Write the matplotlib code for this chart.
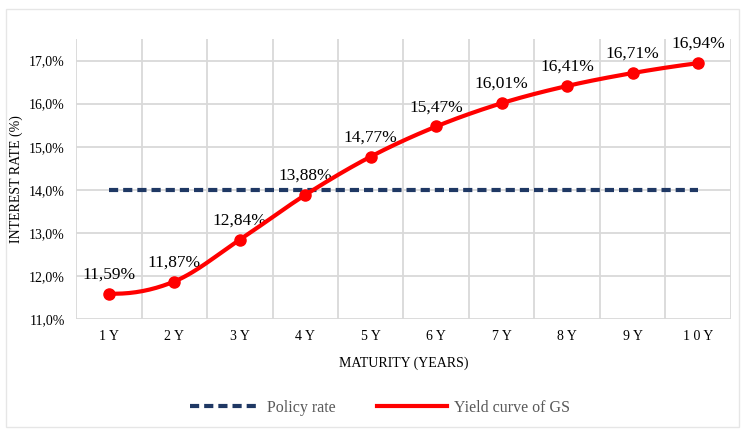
import numpy as np
import matplotlib
matplotlib.use("Agg")
import matplotlib.pyplot as plt
from matplotlib.patches import Rectangle

# data
maturities = ["1 Y", "2 Y", "3 Y", "4 Y", "5 Y", "6 Y", "7 Y", "8 Y", "9 Y", "1 0 Y"]
yield_gs = [11.59, 11.87, 12.84, 13.88, 14.77, 15.47, 16.01, 16.41, 16.71, 16.94]
policy_rate = [14.0] * 10

plt.rcParams['font.family'] = ['Liberation Serif', 'DejaVu Serif']

red = "#FF0000"
navy = "#1F3864"
grid = "#D9D9D9"


def smooth(x, y, n=30):
    # cubic hermite through the points, like Excel's smoothed line
    x = np.asarray(x, float)
    y = np.asarray(y, float)
    m = np.zeros_like(y)
    m[1:-1] = (y[2:] - y[:-2]) / 2
    m[0] = 2 * (y[1] - y[0]) - m[1]
    m[-1] = 2 * (y[-1] - y[-2]) - m[-2]
    t = np.linspace(0, 1, n)
    h00 = 2 * t**3 - 3 * t**2 + 1
    h10 = t**3 - 2 * t**2 + t
    h01 = -2 * t**3 + 3 * t**2
    h11 = t**3 - t**2
    xs, ys = [], []
    for i in range(len(x) - 1):
        xs.append(x[i] + t * (x[i + 1] - x[i]))
        ys.append(h00 * y[i] + h10 * m[i] + h01 * y[i + 1] + h11 * m[i + 1])
    return np.concatenate(xs), np.concatenate(ys)


fig = plt.figure(figsize=(7.45, 4.33), dpi=100)
fig.patches.append(Rectangle((0.008, 0.014), 0.984, 0.965, transform=fig.transFigure,
                             fill=False, edgecolor="#E6E6E6", lw=1))
ax = fig.add_axes([76 / 745, 1 - 319 / 433, 655 / 745, 280 / 433])

x = np.arange(len(maturities))
ax.plot(x, policy_rate, color=navy, lw=3, ls=(0, (2.2, 1.2)), label="Policy rate", zorder=3)
sx, sy = smooth(x, yield_gs)
ax.plot(sx, sy, color=red, lw=3, zorder=4, label="Yield curve of GS")
ax.plot(x, yield_gs, 'o', color=red, ms=8, zorder=5)

for xi, yi in zip(x, yield_gs):
    ax.annotate(f"{yi:.2f}%".replace(".", ","), (xi, yi), xytext=(0, 8),
                textcoords="offset points", ha="center", va="bottom", fontsize=12.5)

ax.set_xlim(-0.5, len(maturities) - 0.5)
ax.set_ylim(11, 17.5)
ax.set_yticks(np.arange(11, 17.5, 1))
ax.set_yticklabels([f"{v:.1f}%".replace(".", ",") for v in np.arange(11, 17.5, 1)], fontsize=10)
ax.set_xticks(x)
ax.set_xticklabels(maturities, fontsize=10)
ax.grid(False)
for v in np.arange(-0.5, len(maturities)):
    ax.axvline(v, color=grid, lw=1.3, zorder=0)
for v in np.arange(11, 17.5, 1):
    ax.axhline(v, color=grid, lw=1.3, zorder=0)
ax.tick_params(axis="both", which="both", length=0, pad=8)
for s in ax.spines.values():
    s.set_visible(False)

ax.set_xlabel("MATURITY (YEARS)", fontsize=10, labelpad=10)
ax.set_ylabel("INTEREST RATE (%)", fontsize=10, labelpad=4)

fig.legend(loc="center", bbox_to_anchor=(0.51, 1 - 408 / 433), ncol=2, frameon=False,
           fontsize=11.5, handlelength=4.4, handletextpad=0.4, columnspacing=2.6,
           labelcolor="#595959")

fig.savefig("out.png", dpi=100)
